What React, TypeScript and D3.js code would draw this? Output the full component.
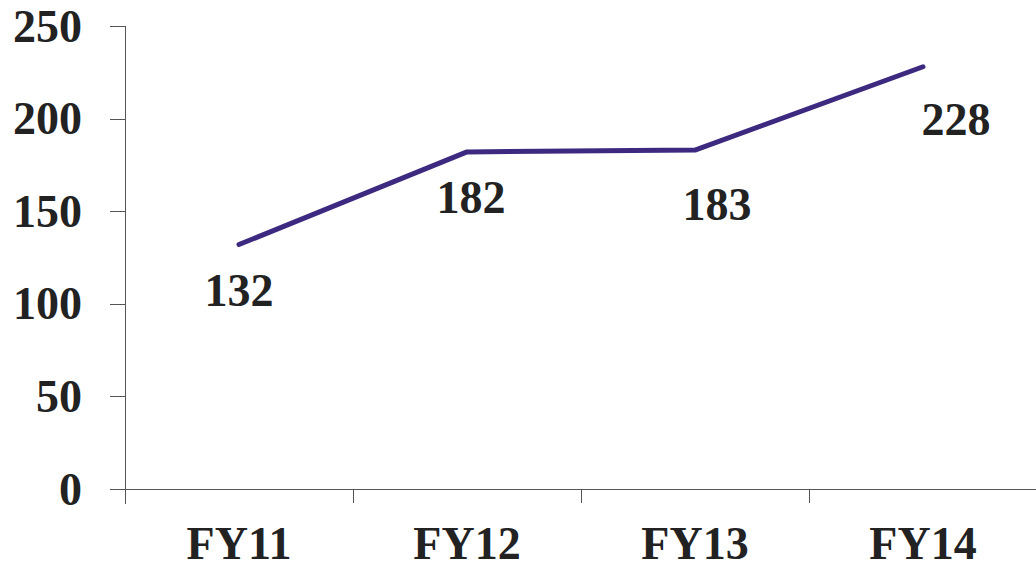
import React, { useEffect, useRef } from 'react';
import * as d3 from 'd3';

const years = ['FY11', 'FY12', 'FY13', 'FY14'];
const values = [132, 182, 183, 228];
const yTicks = [0, 50, 100, 150, 200, 250];
// label nudges (dx, dy) from each point, as they sit in the original
const labelDx = [0, 4, 22, 33];
const labelDy = [61, 61, 70, 68];

const App = () => {
    const svgRef = useRef<SVGSVGElement>(null);

    useEffect(() => {
        const svg = d3.select(svgRef.current);
        svg.selectAll('*').remove();

        const width = 1036;
        const height = 569;
        const font = '"Liberation Serif", "Times New Roman", serif';

        const x = d3.scaleBand<string>().domain(years).range([125, 1037]);
        const y = d3.scaleLinear().domain([0, 250]).range([489, 26]);

        svg.append('rect').attr('width', width).attr('height', height).attr('fill', '#fff');

        const axisColor = '#555';

        // y axis
        svg.append('line')
            .attr('x1', 125.5).attr('x2', 125.5)
            .attr('y1', y(250)).attr('y2', 504)
            .attr('stroke', axisColor).attr('stroke-width', 1);

        svg.selectAll('.ytick')
            .data(yTicks)
            .enter()
            .append('line')
            .attr('x1', 110).attr('x2', 125)
            .attr('y1', d => Math.round(y(d)) + 0.5)
            .attr('y2', d => Math.round(y(d)) + 0.5)
            .attr('stroke', axisColor);

        svg.selectAll('.ylabel')
            .data(yTicks)
            .enter()
            .append('text')
            .attr('x', 82)
            .attr('y', d => y(d))
            .attr('dy', '0.34em')
            .attr('text-anchor', 'end')
            .attr('font-family', font)
            .attr('font-weight', 'bold')
            .attr('font-size', 46)
            .attr('fill', '#222')
            .text(d => d);

        // x axis
        svg.append('line')
            .attr('x1', 110).attr('x2', width)
            .attr('y1', y(0) + 0.5).attr('y2', y(0) + 0.5)
            .attr('stroke', axisColor);

        const boundaries = years.map(d => x(d) as number).slice(1);
        svg.selectAll('.xtick')
            .data(boundaries)
            .enter()
            .append('line')
            .attr('x1', d => Math.round(d) + 0.5).attr('x2', d => Math.round(d) + 0.5)
            .attr('y1', y(0)).attr('y2', y(0) + 14)
            .attr('stroke', axisColor);

        svg.selectAll('.xlabel')
            .data(years)
            .enter()
            .append('text')
            .attr('x', d => (x(d) as number) + x.bandwidth() / 2)
            .attr('y', 559)
            .attr('text-anchor', 'middle')
            .attr('font-family', font)
            .attr('font-weight', 'bold')
            .attr('font-size', 46)
            .attr('fill', '#222')
            .text(d => d);

        const pts = years.map((d, i) => ({ year: d, value: values[i], i }));

        const line = d3.line<{ year: string; value: number }>()
            .x(d => (x(d.year) as number) + x.bandwidth() / 2)
            .y(d => y(d.value));

        svg.append('path')
            .attr('d', line(pts))
            .attr('fill', 'none')
            .attr('stroke', '#3d2a80')
            .attr('stroke-width', 5)
            .attr('stroke-linecap', 'round')
            .attr('stroke-linejoin', 'round');

        svg.selectAll('.vlabel')
            .data(pts)
            .enter()
            .append('text')
            .attr('x', d => (x(d.year) as number) + x.bandwidth() / 2 + labelDx[d.i])
            .attr('y', d => y(d.value) + labelDy[d.i])
            .attr('text-anchor', 'middle')
            .attr('font-family', font)
            .attr('font-weight', 'bold')
            .attr('font-size', 46)
            .attr('fill', '#222')
            .text(d => d.value);
    }, []);

    return (
        <svg ref={svgRef} width={1036} height={569}
            style={{ position: 'absolute', left: 0, top: 0 }}></svg>
    );
};

export default App;
